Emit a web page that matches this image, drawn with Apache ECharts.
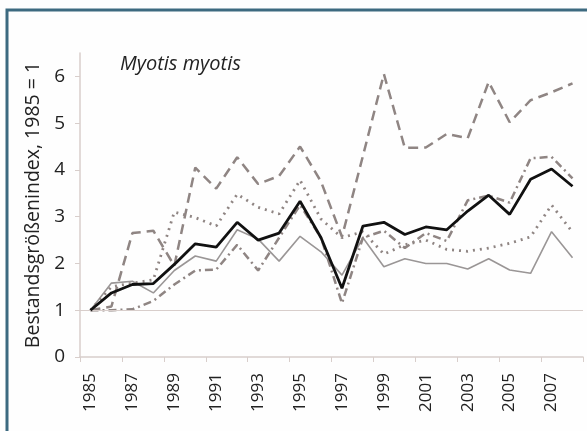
<!DOCTYPE html>
<html>
<head>
<meta charset="utf-8">
<script src="https://cdn.jsdelivr.net/npm/echarts@6/dist/echarts.min.js"></script>
<style>
	html, body { margin: 0; padding: 0; background: #fefefe; }
	#chart { width: 587px; height: 431px; }
</style>
</head>
<body>
<div id="chart"></div>
<script>
// Jahre
var years = ['1985', '1986', '1987', '1988', '1989', '1990', '1991', '1992', '1993', '1994', '1995', '1996',
	'1997', '1998', '1999', '2000', '2001', '2002', '2003', '2004', '2005', '2006', '2007', '2008'];
var yTicks = [0, 1, 2, 3, 4, 5, 6];

// Index-Werte
var meanLine = [1, 1.37, 1.55, 1.57, 1.98, 2.42, 2.35, 2.88, 2.5, 2.65, 3.33, 2.55,
	1.47, 2.8, 2.88, 2.62, 2.78, 2.72, 3.12, 3.46, 3.05, 3.8, 4.02, 3.65];
var thinLine = [1, 1.58, 1.62, 1.37, 1.85, 2.16, 2.05, 2.72, 2.52, 2.05, 2.58, 2.25,
	1.75, 2.55, 1.93, 2.1, 2.0, 2.0, 1.88, 2.1, 1.86, 1.79, 2.68, 2.12];
var dashLine = [1, 1.08, 2.65, 2.7, 1.95, 4.05, 3.6, 4.27, 3.7, 3.87, 4.5, 3.75,
	2.57, 4.3, 6.05, 4.47, 4.48, 4.77, 4.68, 5.88, 5.02, 5.49, 5.66, 5.85];
var dotLine = [1, 1.5, 1.58, 1.65, 3.1, 2.98, 2.8, 3.48, 3.2, 3.06, 3.78, 2.95,
	2.55, 2.68, 2.2, 2.4, 2.5, 2.3, 2.26, 2.33, 2.43, 2.57, 3.25, 2.67];
var dashDotLine = [1, 1.0, 1.02, 1.2, 1.55, 1.85, 1.87, 2.4, 1.85, 2.55, 3.25, 2.55,
	1.15, 2.55, 2.7, 2.33, 2.65, 2.48, 3.35, 3.45, 3.3, 4.25, 4.28, 3.82];

var grau = '#8f8583';

function makeSeries(name, data, width, color, dash, z) {
	return {
		name: name,
		type: 'line',
		data: data,
		symbol: 'none',
		z: z,
		lineStyle: {
			width: width,
			color: color,
			type: dash,
			cap: 'butt'
		},
		animation: false
	};
}

var seriesList = [
	makeSeries('thin', thinLine, 1.6, '#9a9696', 'solid', 2),
	makeSeries('dash', dashLine, 2.5, grau, [10, 6], 3),
	makeSeries('dot', dotLine, 2.8, grau, [2, 5], 3),
	makeSeries('dashdot', dashDotLine, 2.5, grau, [8, 4, 2, 4], 3),
	makeSeries('mean', meanLine, 2.8, '#111111', 'solid', 5)
];
// Linie bei Index 1
seriesList[0].markLine = {
	silent: true,
	symbol: 'none',
	label: { show: false },
	lineStyle: { color: '#d8cecb', width: 1, type: 'solid' },
	data: [{ yAxis: 1 }]
};

var option = {
	backgroundColor: '#fefefe',
	animation: false,
	title: {
		text: 'Myotis myotis',
		left: 115,
		top: 49,
		textStyle: {
			fontFamily: 'Open Sans',
			fontStyle: 'italic',
			fontWeight: 'normal',
			fontSize: 20,
			color: '#222'
		}
	},
	graphic: [{
		type: 'rect',
		shape: { x: 7, y: 10, width: 640, height: 480 },
		style: { fill: 'none', stroke: '#3d6a80', lineWidth: 3 },
		silent: true
	}],
	grid: {
		left: 80,
		right: 4,
		top: 53,
		bottom: 74
	},
	xAxis: {
		type: 'category',
		data: years,
		boundaryGap: true,
		axisLine: { lineStyle: { color: '#d8cecb', width: 1.5 } },
		axisTick: { show: true, length: 5, lineStyle: { color: '#d8cecb' } },
		axisLabel: {
			interval: 1,
			rotate: 90,
			margin: 16,
			fontFamily: 'Open Sans',
			fontSize: 17,
			color: '#222'
		},
		splitLine: { show: false }
	},
	yAxis: {
		type: 'value',
		min: 0,
		max: 6.5,
		name: 'Bestandsgrößenindex, 1985 = 1',
		nameLocation: 'middle',
		nameRotate: 90,
		nameGap: 35,
		nameTextStyle: {
			fontFamily: 'Open Sans',
			fontSize: 19.5,
			color: '#222'
		},
		axisLine: { show: true, lineStyle: { color: '#d8cecb', width: 1.5 } },
		axisTick: { show: true, length: 5, customValues: yTicks, lineStyle: { color: '#d8cecb' } },
		axisLabel: {
			customValues: yTicks,
			margin: 15,
			fontFamily: 'Open Sans',
			fontSize: 19,
			color: '#222'
		},
		splitLine: { show: false }
	},
	series: seriesList
};

var chart = echarts.init(document.getElementById('chart'));
chart.setOption(option);
</script>
</body>
</html>
